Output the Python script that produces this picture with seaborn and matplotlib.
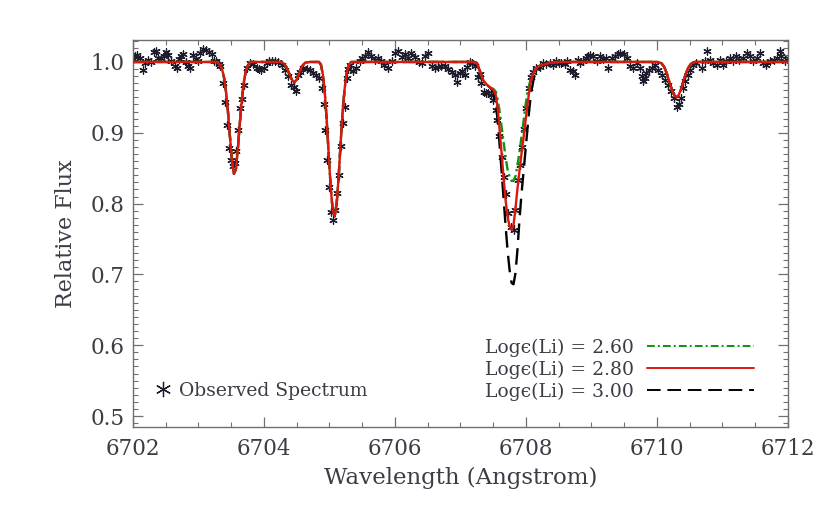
import numpy as np
import pandas as pd
import matplotlib
matplotlib.use('Agg')
import matplotlib.pyplot as plt
from matplotlib.ticker import MultipleLocator
from matplotlib.lines import Line2D
import seaborn as sns

# Observed spectrum (wavelength in Angstrom, relative flux)
obs_wave = [
    6702.00, 6702.03, 6702.06, 6702.10, 6702.15, 6702.19, 6702.23, 6702.27, 6702.32, 6702.35,
    6702.38, 6702.43, 6702.47, 6702.51, 6702.53, 6702.58, 6702.64, 6702.67, 6702.71, 6702.74,
    6702.77, 6702.81, 6702.84, 6702.87, 6702.92, 6702.96, 6702.99, 6703.03, 6703.07, 6703.11,
    6703.16, 6703.20, 6703.23, 6703.27, 6703.31, 6703.33, 6703.37, 6703.41, 6703.44, 6703.47,
    6703.50, 6703.53, 6703.55, 6703.58, 6703.61, 6703.64, 6703.66, 6703.70, 6703.74, 6703.78,
    6703.83, 6703.89, 6703.93, 6703.96, 6704.00, 6704.04, 6704.07, 6704.12, 6704.17, 6704.22,
    6704.27, 6704.32, 6704.37, 6704.42, 6704.46, 6704.49, 6704.52, 6704.55, 6704.60, 6704.65,
    6704.70, 6704.75, 6704.80, 6704.84, 6704.88, 6704.91, 6704.93, 6704.96, 6704.99, 6705.02,
    6705.06, 6705.08, 6705.12, 6705.15, 6705.18, 6705.20, 6705.23, 6705.26, 6705.29, 6705.31,
    6705.36, 6705.41, 6705.46, 6705.50, 6705.54, 6705.59, 6705.64, 6705.69, 6705.74, 6705.79,
    6705.84, 6705.90, 6705.95, 6706.00, 6706.05, 6706.10, 6706.15, 6706.20, 6706.25, 6706.30,
    6706.36, 6706.41, 6706.46, 6706.51, 6706.56, 6706.61, 6706.66, 6706.71, 6706.76, 6706.81,
    6706.87, 6706.91, 6706.95, 6706.99, 6707.03, 6707.07, 6707.10, 6707.14, 6707.17, 6707.22,
    6707.27, 6707.30, 6707.32, 6707.36, 6707.39, 6707.42, 6707.46, 6707.50, 6707.54, 6707.56,
    6707.59, 6707.63, 6707.66, 6707.70, 6707.73, 6707.77, 6707.81, 6707.84, 6707.88, 6707.91,
    6707.94, 6707.97, 6708.00, 6708.04, 6708.07, 6708.11, 6708.16, 6708.21, 6708.26, 6708.31,
    6708.36, 6708.41, 6708.46, 6708.51, 6708.54, 6708.59, 6708.63, 6708.67, 6708.72, 6708.75,
    6708.79, 6708.83, 6708.87, 6708.91, 6708.94, 6708.98, 6709.03, 6709.08, 6709.13, 6709.18,
    6709.22, 6709.26, 6709.31, 6709.36, 6709.40, 6709.44, 6709.49, 6709.54, 6709.59, 6709.64,
    6709.69, 6709.74, 6709.77, 6709.79, 6709.82, 6709.84, 6709.88, 6709.93, 6709.97, 6710.02,
    6710.07, 6710.12, 6710.17, 6710.22, 6710.26, 6710.30, 6710.33, 6710.36, 6710.39, 6710.43,
    6710.47, 6710.50, 6710.55, 6710.60, 6710.68, 6710.73, 6710.76, 6710.81, 6710.86, 6710.91,
    6710.96, 6711.01, 6711.06, 6711.11, 6711.16, 6711.21, 6711.26, 6711.32, 6711.37, 6711.42,
    6711.47, 6711.52, 6711.57, 6711.62, 6711.67, 6711.72, 6711.78, 6711.83, 6711.88, 6711.90,
    6711.95, 6712.00,
]
obs_flux = [
    1.004, 1.008, 1.010, 1.006, 0.988, 0.999, 1.003, 1.000, 1.014, 1.016,
    1.005, 1.006, 1.008, 1.014, 1.010, 1.002, 0.994, 0.991, 1.004, 1.009,
    1.011, 1.000, 0.994, 0.992, 1.010, 1.004, 1.001, 1.012, 1.019, 1.017,
    1.014, 1.011, 1.001, 1.001, 0.997, 0.994, 0.970, 0.944, 0.911, 0.879,
    0.861, 0.853, 0.857, 0.874, 0.904, 0.935, 0.948, 0.968, 0.992, 0.999,
    0.997, 0.992, 0.990, 0.989, 0.992, 0.998, 1.002, 1.002, 1.001, 1.000,
    0.996, 0.989, 0.980, 0.968, 0.964, 0.959, 0.982, 0.986, 0.992, 0.990,
    0.989, 0.985, 0.982, 0.977, 0.963, 0.940, 0.904, 0.861, 0.824, 0.788,
    0.777, 0.791, 0.815, 0.841, 0.881, 0.914, 0.937, 0.977, 0.990, 0.996,
    0.987, 0.992, 1.001, 1.006, 1.009, 1.014, 1.008, 1.003, 1.006, 1.001,
    0.996, 0.992, 1.001, 1.013, 1.015, 1.007, 1.011, 1.005, 1.012, 1.007,
    1.000, 0.998, 1.008, 1.013, 0.994, 0.992, 0.993, 0.994, 0.994, 0.990,
    0.986, 0.981, 0.972, 0.984, 0.987, 0.982, 0.993, 1.000, 0.999, 0.995,
    0.979, 0.983, 0.970, 0.958, 0.956, 0.956, 0.953, 0.946, 0.932, 0.918,
    0.895, 0.866, 0.838, 0.814, 0.786, 0.767, 0.763, 0.791, 0.833, 0.855,
    0.880, 0.906, 0.935, 0.963, 0.979, 0.986, 0.991, 0.993, 0.998, 0.997,
    0.998, 0.996, 1.001, 0.998, 0.999, 0.997, 1.002, 0.989, 0.987, 0.982,
    1.003, 0.999, 1.001, 1.005, 1.008, 1.010, 1.008, 1.001, 1.008, 1.004,
    1.006, 0.992, 1.006, 1.008, 1.011, 1.013, 1.011, 1.006, 0.994, 0.992,
    0.999, 0.992, 0.980, 0.973, 0.978, 0.984, 0.989, 0.991, 0.996, 0.989,
    0.982, 0.975, 0.968, 0.959, 0.949, 0.937, 0.940, 0.949, 0.963, 0.973,
    0.982, 0.989, 0.996, 0.998, 0.991, 1.001, 1.015, 1.003, 0.999, 0.996,
    1.003, 0.996, 1.001, 1.006, 1.001, 1.008, 1.003, 1.006, 1.013, 1.008,
    1.001, 1.006, 1.013, 0.999, 0.996, 1.001, 1.003, 1.006, 1.015, 1.008,
    1.001, 1.006,
]

# Synthetic spectrum outside the Li doublet (same for all three abundances)
model_wave = [
    6702.00, 6703.28, 6703.32, 6703.36, 6703.39, 6703.42, 6703.45, 6703.48, 6703.51, 6703.54,
    6703.57, 6703.60, 6703.63, 6703.66, 6703.69, 6703.72, 6703.76, 6703.80, 6704.26, 6704.30,
    6704.34, 6704.38, 6704.42, 6704.46, 6704.50, 6704.54, 6704.58, 6704.63, 6704.70, 6704.84,
    6704.87, 6704.90, 6704.93, 6704.96, 6704.99, 6705.02, 6705.05, 6705.08, 6705.11, 6705.14,
    6705.17, 6705.20, 6705.23, 6705.26, 6705.29, 6705.33, 6707.15,
    6708.50, 6710.02, 6710.07, 6710.11, 6710.15, 6710.19, 6710.23, 6710.27, 6710.30, 6710.33,
    6710.37, 6710.41, 6710.45, 6710.49, 6710.53, 6710.58, 6712.00,
]
model_flux = [
    1.000, 1.000, 0.997, 0.990, 0.978, 0.958, 0.930, 0.895, 0.862, 0.842,
    0.848, 0.876, 0.912, 0.945, 0.970, 0.986, 0.996, 1.000, 1.000, 0.998,
    0.993, 0.985, 0.976, 0.971, 0.975, 0.985, 0.994, 0.999, 1.000, 1.000,
    0.996, 0.982, 0.955, 0.915, 0.866, 0.821, 0.790, 0.782, 0.800, 0.838,
    0.885, 0.928, 0.961, 0.983, 0.995, 1.000, 1.000,
    1.000, 1.000, 0.998, 0.993, 0.984, 0.972, 0.960, 0.952, 0.950, 0.953,
    0.962, 0.975, 0.986, 0.994, 0.998, 1.000, 1.000,
]

# Li I 6708 region for Log eps(Li) = 2.60, 2.80, 3.00
li_wave = [
    6707.20, 6707.25, 6707.30, 6707.35, 6707.40, 6707.45, 6707.50, 6707.54, 6707.57, 6707.60,
    6707.63, 6707.66, 6707.69, 6707.72, 6707.75, 6707.78, 6707.81, 6707.84, 6707.87, 6707.90,
    6707.93, 6707.96, 6707.99, 6708.02, 6708.05, 6708.08, 6708.12, 6708.16, 6708.22, 6708.30,
    6708.38, 6708.46,
]
li_flux_260 = [
    1.000, 0.999, 0.986, 0.974, 0.968, 0.964, 0.962, 0.958, 0.946, 0.928,
    0.907, 0.886, 0.864, 0.848, 0.838, 0.832, 0.832, 0.839, 0.854, 0.872,
    0.893, 0.914, 0.937, 0.955, 0.968, 0.978, 0.986, 0.992, 0.995, 0.997,
    0.999, 1.000,
]
li_flux_280 = [
    1.000, 0.999, 0.986, 0.974, 0.968, 0.964, 0.961, 0.953, 0.933, 0.902,
    0.868, 0.834, 0.804, 0.781, 0.768, 0.763, 0.770, 0.793, 0.821, 0.846,
    0.869, 0.891, 0.914, 0.937, 0.959, 0.975, 0.985, 0.992, 0.995, 0.997,
    0.999, 1.000,
]
li_flux_300 = [
    1.000, 0.999, 0.986, 0.974, 0.968, 0.964, 0.958, 0.942, 0.915, 0.880,
    0.843, 0.805, 0.767, 0.733, 0.706, 0.688, 0.686, 0.702, 0.735, 0.776,
    0.812, 0.842, 0.872, 0.903, 0.933, 0.958, 0.977, 0.989, 0.995, 0.997,
    0.999, 1.000,
]

abund_labels = ['2.60', '2.80', '3.00']
abund_colors = ['#0a960a', '#dc180e', '#000000']
abund_dashes = [(4, 1.6, 1, 1.6), (), (7, 3.5)]
li_fluxes = [li_flux_260, li_flux_280, li_flux_300]

sns.set_theme(style='ticks')
txt_color = '#3c3c46'
plt.rcParams['font.family'] = ['DejaVu Serif', 'DejaVu Sans']
plt.rcParams['mathtext.fontset'] = 'dejavuserif'
plt.rcParams['text.color'] = txt_color
plt.rcParams['axes.labelcolor'] = txt_color
plt.rcParams['xtick.color'] = '#707070'
plt.rcParams['ytick.color'] = '#707070'
plt.rcParams['xtick.labelcolor'] = txt_color
plt.rcParams['ytick.labelcolor'] = txt_color

fig = plt.figure(figsize=(8.27, 5.11), dpi=100)
ax = fig.add_axes([0.1608, 0.1644, 0.792, 0.7573])

obs = pd.DataFrame({'wave': obs_wave, 'flux': obs_flux})
sns.scatterplot(data=obs, x='wave', y='flux', ax=ax, marker=(6, 2, 0), s=28,
                color='#1c1c2c', linewidth=0.9, zorder=2)

# draw 2.60 and 3.00 first, 2.80 on top
order = [2, 0, 1]
handles = {}
for i in order:
    df = pd.DataFrame({'wave': model_wave + li_wave, 'flux': model_flux + li_fluxes[i]})
    df = df.sort_values('wave')
    sns.lineplot(data=df, x='wave', y='flux', ax=ax, color=abund_colors[i], lw=1.7,
                 sort=False, estimator=None, zorder=3 + (i == 1))
    line = ax.lines[-1]
    if abund_dashes[i]:
        line.set_dashes(abund_dashes[i])
    handles[i] = Line2D([], [], color=abund_colors[i], lw=1.4,
                        dashes=abund_dashes[i] if abund_dashes[i] else (None, None))

ax.set_xlim(6702, 6712)
ax.set_ylim(0.4845, 1.031)
ax.xaxis.set_major_locator(MultipleLocator(2))
ax.xaxis.set_minor_locator(MultipleLocator(0.5))
ax.yaxis.set_major_locator(MultipleLocator(0.1))
ax.yaxis.set_minor_locator(MultipleLocator(0.01))
ax.yaxis.set_major_formatter(plt.FuncFormatter(lambda v, p: f'{v:.1f}'))
ax.tick_params(which='both', direction='in', top=True, right=True, labelsize=15.5)
ax.tick_params(which='major', length=7, width=0.9)
ax.tick_params(which='minor', length=3.5, width=0.8)
ax.tick_params(axis='x', pad=8)
ax.tick_params(axis='y', pad=6)
for sp in ax.spines.values():
    sp.set_color('#707070')
    sp.set_linewidth(1.0)

ax.set_xlabel('Wavelength (Angstrom)', fontsize=16.5, labelpad=5)
ax.set_ylabel('Relative Flux', fontsize=16, labelpad=10)

leg_font = 13.5
leg1 = ax.legend([handles[0], handles[1], handles[2]],
                 ['Log\u03f5(Li) = ' + s for s in abund_labels],
                 loc='lower right', bbox_to_anchor=(0.948, 0.068), frameon=False,
                 markerfirst=False, fontsize=leg_font, handlelength=5.7, handletextpad=0.7,
                 labelspacing=0.2, borderpad=0, borderaxespad=0)
ax.add_artist(leg1)

star = Line2D([], [], ls='none', marker=(6, 2, 0), markersize=11,
              color='#1c1c2c', markeredgewidth=0.9)
ax.legend([star], ['Observed Spectrum'], loc='lower left',
          bbox_to_anchor=(0.032, 0.07), frameon=False, fontsize=leg_font,
          handlelength=1.0, handletextpad=0.35, borderpad=0, borderaxespad=0)

fig.savefig('out.png', dpi=100)
